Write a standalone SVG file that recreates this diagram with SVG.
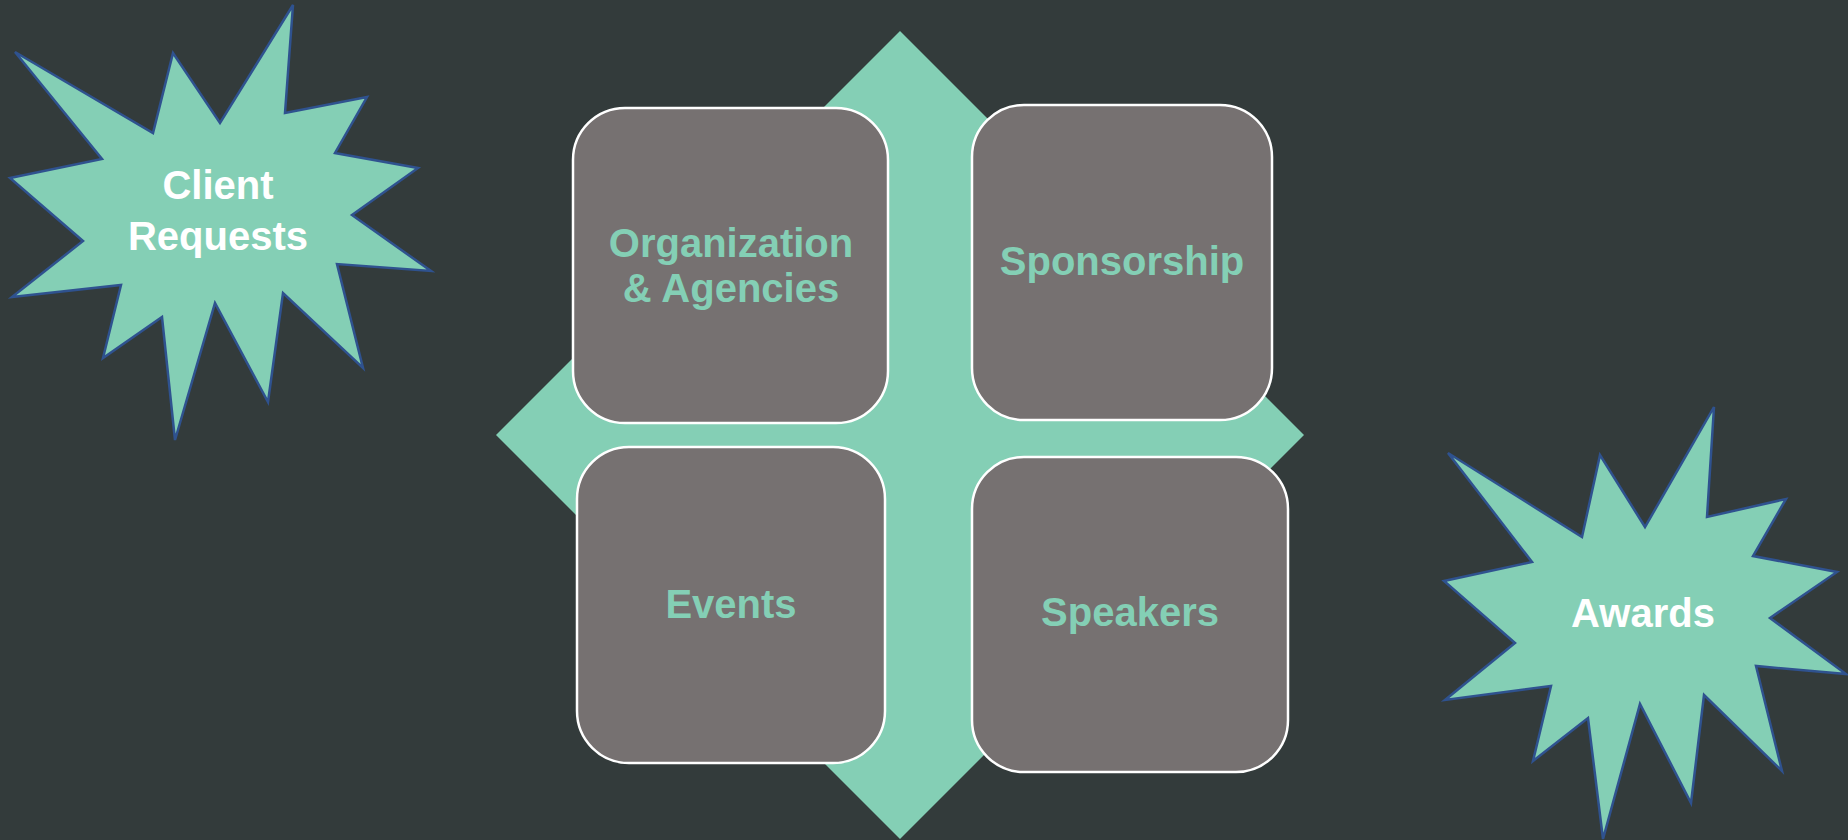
<svg xmlns="http://www.w3.org/2000/svg" width="1848" height="840" viewBox="0 0 1848 840">
<style>
.box{fill:#767171;stroke:#ffffff;stroke-width:2.5}
.burst{fill:#84CFB5;stroke:#2F528F;stroke-width:2.5;stroke-linejoin:miter}
.lbl{font-family:"Liberation Sans",Arial,sans-serif;font-weight:bold;font-size:40px;text-anchor:middle}
.teal{fill:#84CFB5}
.white{fill:#ffffff}
</style>
<rect x="0" y="0" width="1848" height="840" fill="#333B3B"/>
<g id="diamond">
<polygon points="900,31 1304,435 900,839 496,435" fill="#84CFB5"/>
</g>
<g id="connectors"></g>
<g id="node-organization">
<rect class="box" x="573" y="108" width="315" height="315" rx="52" ry="52"/>
<text class="lbl teal" x="731" y="257">Organization</text>
<text class="lbl teal" x="731" y="302">&amp; Agencies</text>
</g>
<g id="node-sponsorship">
<rect class="box" x="972" y="105" width="300" height="315" rx="52" ry="52"/>
<text class="lbl teal" x="1122" y="275">Sponsorship</text>
</g>
<g id="node-events">
<rect class="box" x="577" y="447" width="308" height="316" rx="52" ry="52"/>
<text class="lbl teal" x="731" y="618">Events</text>
</g>
<g id="node-speakers">
<rect class="box" x="972" y="457" width="316" height="315" rx="52" ry="52"/>
<text class="lbl teal" x="1130" y="626">Speakers</text>
</g>
<g id="node-client-requests">
<polygon class="burst" points="15,52 153,133 173,53 220,123 293,5 285,113 367,97 335,153 418,168 352,215 431,271 337,264 363,368 283,293 268,402 215,303 175,440 162,317 103,358 121,285 12,297 83,241 10,178 102,159"/>
<text class="lbl white" x="218" y="199">Client</text>
<text class="lbl white" x="218" y="250">Requests</text>
</g>
<g id="node-awards">
<polygon class="burst" points="1448,453 1582,537 1600,455 1645,527 1714,407 1707,517 1786,499 1753,556 1837,572 1770,618 1846,674 1756,666 1782,771 1704,695 1691,803 1640,704 1603,839 1588,718 1533,761 1551,686 1445,700 1515,643 1444,581 1532,562"/>
<text class="lbl white" x="1643" y="627">Awards</text>
</g>
</svg>
